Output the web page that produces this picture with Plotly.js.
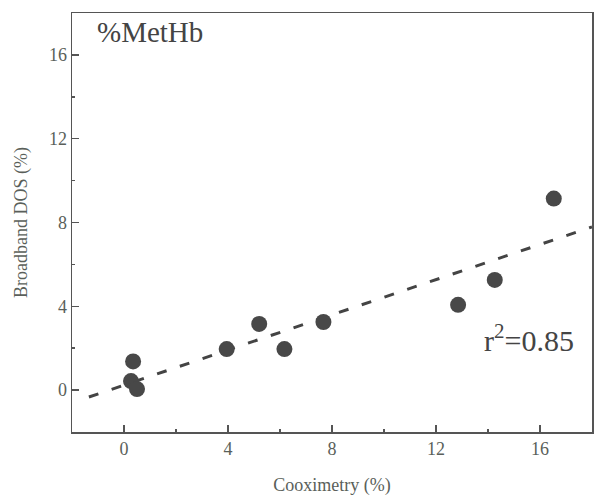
<!DOCTYPE html>
<html><head><meta charset="utf-8">
<script src="https://cdn.plot.ly/plotly-3.0.1.min.js"></script>
<style>html,body{margin:0;padding:0;background:#fff}#c{width:600px;height:504px}</style>
</head><body><div id="c"></div>
<script>
const cooxX = [0.35, 0.27, 0.5, 3.95, 5.2, 6.17, 7.67, 12.85, 14.26, 16.53];
const dosY  = [1.37, 0.43, 0.05, 1.96, 3.16, 1.96, 3.25, 4.07, 5.26, 9.14];
const fitX = [-1.35, 18];
const fitY = [-0.33, 7.79];
const tickVals = [0, 4, 8, 12, 16];
const serif = "Liberation Serif, Times New Roman, serif";
const axisCol = '#555';
const data = [
  {x: fitX, y: fitY, mode: 'lines', line: {color: '#444', width: 3, dash: '10px,14px'}, hoverinfo: 'skip'},
  {x: cooxX, y: dosY, mode: 'markers', marker: {color: '#484848', size: 16}}
];
const axisBase = {
  showgrid: false, zeroline: false, showline: true, linecolor: axisCol, linewidth: 1.5,
  mirror: true, ticks: 'inside', ticklen: 7, tickwidth: 1.5, tickcolor: axisCol,
  tickvals: tickVals, tickfont: {family: serif, size: 18, color: '#5a5f5a'},
  minor: {ticks: 'inside', ticklen: 3, tickwidth: 1.5, tickcolor: axisCol, dtick: 2}
};
const layout = {
  width: 600, height: 504, showlegend: false,
  paper_bgcolor: '#fff', plot_bgcolor: '#fff',
  margin: {l: 72, r: 8, t: 13, b: 72},
  xaxis: Object.assign({}, axisBase, {range: [-2, 18],
    title: {text: 'Cooximetry (%)', font: {family: serif, size: 18, color: '#5a5f5a'}, standoff: 20}}),
  yaxis: Object.assign({}, axisBase, {range: [-2, 18],
    title: {text: 'Broadband DOS (%)', font: {family: serif, size: 18, color: '#5a5f5a'}, standoff: 16}}),
  annotations: [
    {text: '%MetHb', xref: 'paper', yref: 'paper', x: 0.045, y: 0.955, xanchor: 'left', yanchor: 'middle', showarrow: false,
     font: {family: serif, size: 29, color: '#444'}},
    {text: 'r<sup>2</sup>=0.85', xref: 'paper', yref: 'paper', x: 0.97, y: 0.225, xanchor: 'right', yanchor: 'middle', showarrow: false,
     font: {family: serif, size: 30, color: '#444'}}
  ]
};
Plotly.newPlot('c', data, layout, {staticPlot: true});
</script></body></html>
